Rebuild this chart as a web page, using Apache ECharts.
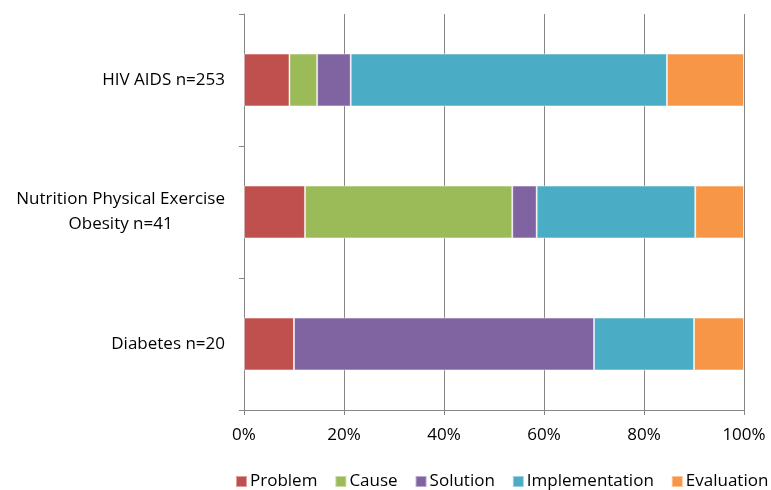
<!DOCTYPE html>
<html>
<head>
<meta charset="utf-8">
<script src="https://cdn.jsdelivr.net/npm/echarts@6/dist/echarts.min.js"></script>
<style>
  html, body { margin: 0; padding: 0; background: #fff; }
  #chart { width: 771px; height: 490px; }
</style>
</head>
<body>
<div id="chart"></div>
<script>
// Topic groups, bottom to top on the category axis
const categories = ['Diabetes n=20', 'Nutrition Physical Exercise\nObesity n=41', 'HIV AIDS n=253'];

// Counts of statements per stage for each topic group
const problem        = [2, 5, 23];
const cause          = [0, 17, 14];
const solution       = [12, 2, 17];
const implementation = [4, 13, 160];
const evaluation     = [2, 4, 39];

const seriesNames  = ['Problem', 'Cause', 'Solution', 'Implementation', 'Evaluation'];
const seriesCounts = [problem, cause, solution, implementation, evaluation];
const colors = ['#C0504D', '#9BBB59', '#8064A2', '#4BACC6', '#F79646'];

const xTicks = [0, 20, 40, 60, 80, 100];

// Group totals, used to turn counts into percentage shares
const totals = categories.map((_, i) => seriesCounts.reduce((s, arr) => s + arr[i], 0));

const FONT = 'Open Sans';
const FS = 17;
const chart = echarts.init(document.getElementById('chart'), null, { renderer: 'canvas' });

chart.setOption({
  animation: false,
  color: colors,
  textStyle: { fontFamily: FONT },
  grid: { left: 244, right: 27, top: 14, bottom: 80, containLabel: false },
  legend: {
    top: 468,
    left: 230,
    width: 600,
    padding: [5, 0, 5, 5],
    itemWidth: 11,
    itemHeight: 11,
    itemGap: 17,
    icon: 'rect',
    textStyle: { fontFamily: FONT, fontSize: FS, color: '#000', padding: [0, 0, 0, -2] },
    data: seriesNames
  },
  xAxis: {
    type: 'value',
    min: 0,
    max: 100,
    interval: 20,
    axisLine: { show: true, lineStyle: { color: '#868686', width: 1 } },
    axisTick: { show: true, length: 5, lineStyle: { color: '#868686' } },
    splitLine: { show: true, lineStyle: { color: '#868686', width: 1 } },
    axisLabel: {
      margin: 17,
      fontFamily: FONT,
      fontSize: FS,
      color: '#000',
      formatter: v => xTicks.includes(v) ? v + '%' : ''
    }
  },
  yAxis: {
    type: 'category',
    data: categories,
    axisLine: { show: true, lineStyle: { color: '#868686', width: 1 } },
    axisTick: { show: true, length: 5, lineStyle: { color: '#868686' } },
    splitLine: { show: false },
    axisLabel: {
      margin: 19,
      fontFamily: FONT,
      fontSize: FS,
      color: '#000',
      lineHeight: 25,
      formatter: v => v.split('\n').map(s => '{c|' + s + '}').join('\n'),
      rich: { c: { align: 'center', fontFamily: FONT, fontSize: FS, color: '#000', lineHeight: 25 } }
    }
  },
  series: seriesNames.map((name, k) => ({
    name,
    type: 'bar',
    stack: 'total',
    barCategoryGap: '60%',
    itemStyle: { color: colors[k], borderColor: 'rgba(255,255,255,0.45)', borderWidth: 1 },
    emphasis: { disabled: true },
    data: seriesCounts[k].map((c, i) => c / totals[i] * 100)
  }))
});
</script>
</body>
</html>
